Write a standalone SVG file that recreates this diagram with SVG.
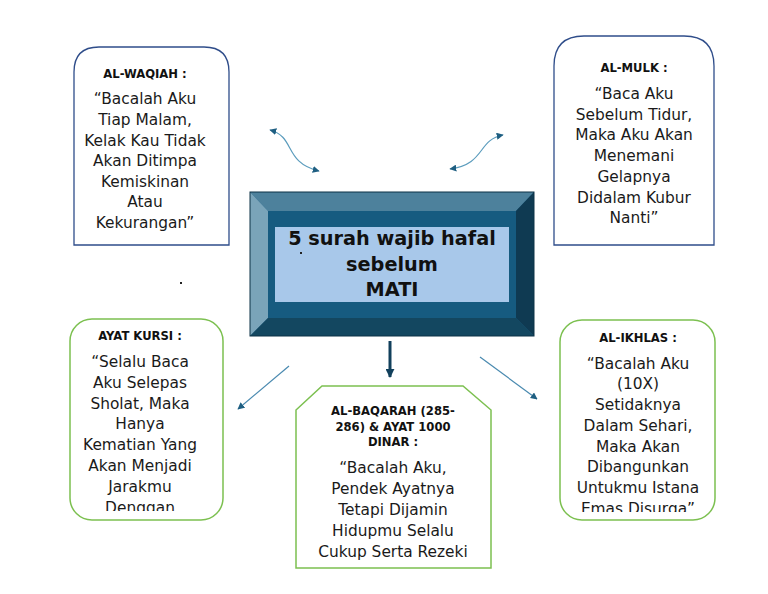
<svg xmlns="http://www.w3.org/2000/svg" width="768" height="594" viewBox="0 0 768 594">
<defs>
<style>
.t{font-family:"DejaVu Sans",sans-serif;font-size:11.6px;font-weight:bold;fill:#111;text-anchor:middle}
.b{font-family:"DejaVu Sans",sans-serif;font-size:15.4px;fill:#1a1a1a;text-anchor:middle}
.c{font-family:"DejaVu Sans",sans-serif;font-size:19.3px;font-weight:bold;fill:#111;text-anchor:middle}
.blue{fill:#fff;stroke:#2f4d8a;stroke-width:1.3}
.green{fill:#fff;stroke:#7cc050;stroke-width:1.5}
.thin{fill:none;stroke:#5b9cbd;stroke-width:1.2}
</style>
<marker id="ah" viewBox="0 0 10 10" refX="9" refY="5" markerWidth="7" markerHeight="7" orient="auto-start-reverse" markerUnits="userSpaceOnUse"><path d="M0,0L10,5L0,10z" fill="#1f5f82"/></marker>
<marker id="ahb" viewBox="0 0 10 10" refX="9" refY="5" markerWidth="9" markerHeight="9" orient="auto" markerUnits="userSpaceOnUse"><path d="M0,0L10,5L0,10z" fill="#12405c"/></marker>
<clipPath id="ck"><rect x="70" y="319" width="153" height="192"/></clipPath>
<clipPath id="ci"><rect x="560" y="320" width="155" height="192"/></clipPath>
<clipPath id="cb"><rect x="296" y="386" width="195" height="179"/></clipPath>
</defs>

<g id="connectors">
<path class="thin" d="M270,130 C296,137 283,162 319,171" marker-start="url(#ah)" marker-end="url(#ah)"/>
<path class="thin" d="M503,135 C477,140 486,164 450,169" marker-start="url(#ah)" marker-end="url(#ah)"/>
<line x1="390" y1="341" x2="390" y2="377" stroke="#12405c" stroke-width="3" marker-end="url(#ahb)"/>
<line x1="289" y1="366" x2="238" y2="409" stroke="#4a8ab0" stroke-width="1.2" marker-end="url(#ah)"/>
<line x1="480" y1="357" x2="537" y2="399" stroke="#4a8ab0" stroke-width="1.2" marker-end="url(#ah)"/>
</g>

<g id="center">
<rect x="250" y="192" width="284" height="144" fill="#165b80"/>
<polygon points="250,192 534,192 516,211 268,211" fill="#4d819c"/>
<polygon points="250,192 268,211 268,318 250,336" fill="#7aa4b9"/>
<polygon points="534,192 534,336 516,318 516,211" fill="#0f3a52"/>
<polygon points="250,336 268,318 516,318 534,336" fill="#134760"/>
<rect x="250" y="192" width="284" height="144" fill="none" stroke="#0d3347" stroke-width="1"/>
<rect x="275" y="227" width="234" height="75" fill="#a8c8ea"/>
<text class="c" x="392" y="245">5 surah wajib hafal</text>
<text class="c" x="392" y="271">sebelum</text>
<text class="c" x="392" y="296">MATI</text>
<rect x="300" y="252" width="2" height="2" fill="#222"/>
</g>

<g id="al-waqiah">
<path class="blue" d="M74,245 V72 Q74,47 99,47 H204 Q229,47 229,72 V245 Z"/>
<text class="t" x="145" y="78">AL-WAQIAH :</text>
<text class="b" x="145" y="104">“Bacalah Aku</text>
<text class="b" x="145" y="125">Tiap Malam,</text>
<text class="b" x="145" y="146">Kelak Kau Tidak</text>
<text class="b" x="145" y="166">Akan Ditimpa</text>
<text class="b" x="145" y="187">Kemiskinan</text>
<text class="b" x="145" y="207">Atau</text>
<text class="b" x="145" y="228">Kekurangan”</text>
</g>

<g id="al-mulk">
<path class="blue" d="M554,245 V66 Q554,36 584,36 H684 Q714,36 714,66 V245 Z"/>
<text class="t" x="634" y="72">AL-MULK :</text>
<text class="b" x="634" y="99">“Baca Aku</text>
<text class="b" x="634" y="120">Sebelum Tidur,</text>
<text class="b" x="634" y="140">Maka Aku Akan</text>
<text class="b" x="634" y="161">Menemani</text>
<text class="b" x="634" y="182">Gelapnya</text>
<text class="b" x="634" y="203">Didalam Kubur</text>
<text class="b" x="634" y="223">Nanti”</text>
</g>

<rect x="180" y="282" width="2" height="2" fill="#222"/>

<g id="ayat-kursi">
<rect class="green" x="70" y="319" width="153" height="201" rx="22"/>
<text class="t" x="140" y="340">AYAT KURSI :</text>
<g clip-path="url(#ck)">
<text class="b" x="140" y="367">“Selalu Baca</text>
<text class="b" x="140" y="388">Aku Selepas</text>
<text class="b" x="140" y="409">Sholat, Maka</text>
<text class="b" x="140" y="429">Hanya</text>
<text class="b" x="140" y="450">Kematian Yang</text>
<text class="b" x="140" y="471">Akan Menjadi</text>
<text class="b" x="140" y="492">Jarakmu</text>
<text class="b" x="140" y="513">Denggan</text>
</g>
</g>

<g id="al-ikhlas">
<rect class="green" x="560" y="320" width="155" height="200" rx="22"/>
<text class="t" x="638" y="342">AL-IKHLAS :</text>
<g clip-path="url(#ci)">
<text class="b" x="638" y="369">“Bacalah Aku</text>
<text class="b" x="638" y="389">(10X)</text>
<text class="b" x="638" y="410">Setidaknya</text>
<text class="b" x="638" y="431">Dalam Sehari,</text>
<text class="b" x="638" y="452">Maka Akan</text>
<text class="b" x="638" y="472">Dibangunkan</text>
<text class="b" x="638" y="493">Untukmu Istana</text>
<text class="b" x="638" y="514">Emas Disurga”</text>
</g>
</g>

<g id="al-baqarah">
<polygon class="green" points="296,410 322,386 463,386 491,410 491,568 296,568"/>
<text class="t" x="393" y="415">AL-BAQARAH (285-</text>
<text class="t" x="393" y="431">286) &amp; AYAT 1000</text>
<text class="t" x="393" y="446">DINAR :</text>
<g clip-path="url(#cb)">
<text class="b" x="393" y="473">“Bacalah Aku,</text>
<text class="b" x="393" y="494">Pendek Ayatnya</text>
<text class="b" x="393" y="515">Tetapi Dijamin</text>
<text class="b" x="393" y="536">Hidupmu Selalu</text>
<text class="b" x="393" y="557">Cukup Serta Rezeki</text>
</g>
</g>
</svg>
